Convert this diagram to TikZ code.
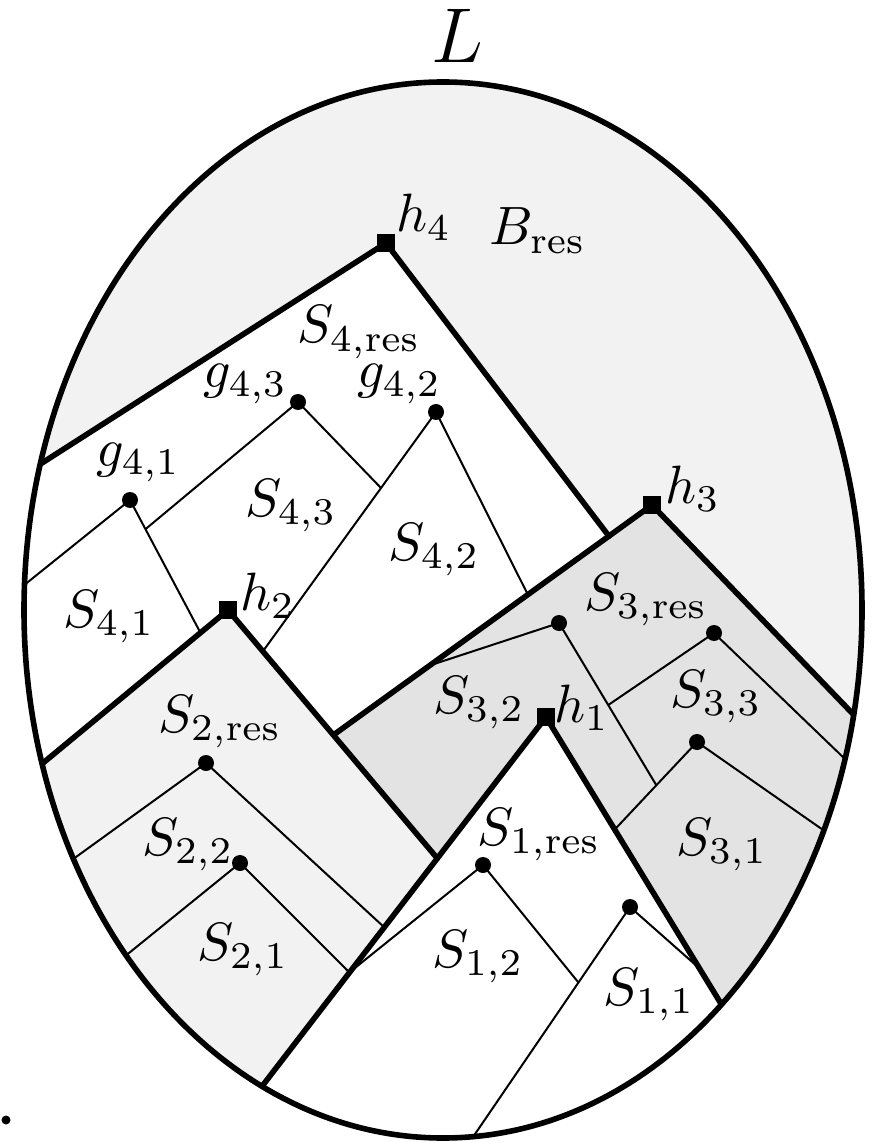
\documentclass[tikz,border=0pt]{standalone}
\usetikzlibrary{calc}
\definecolor{resgray}{RGB}{242,242,242}
\definecolor{midgray}{RGB}{227,227,227}
\begin{document}
\begin{tikzpicture}[x=0.5pt,y=-0.5pt,
  thickline/.style={line width=2.8pt, line cap=round, line join=round},
  thinline/.style={line width=1pt},
  dotmark/.style={circle, fill=black, inner sep=0pt, minimum size=8pt},
  sqmark/.style={rectangle, fill=black, inner sep=0pt, minimum size=9pt},
  lab/.style={inner sep=0pt, anchor=base west, scale=2.7}]
\useasboundingbox (0,0) rectangle (874,1143);
\coordinate (C) at (443,610);
% apexes
\coordinate (h4) at (386,243);
\coordinate (h3) at (652,505);
\coordinate (h2) at (228,610);
\coordinate (h1) at (546,717);
% direction points of thick lines
\coordinate (h4L) at (42,463);
\coordinate (h4R) at (608,535);
\coordinate (h3L) at (336,733);
\coordinate (h3R) at (852,713);
\coordinate (h2L) at (43,763);
\coordinate (h2R) at (437,858);
\coordinate (h1L) at (263,1085);
\coordinate (h1R) at (723,1007);
\coordinate (R4) at (intersection of h4--h4R and h3--h3L);
\coordinate (E3) at (intersection of h3--h3L and h2--h2R);
\coordinate (E2) at (intersection of h2--h2R and h1--h1L);
% branch points
\coordinate (g41) at (130,500);
\coordinate (g43) at (298,402);
\coordinate (g42) at (436,412);
\coordinate (a3) at (559,623);
\coordinate (b3) at (714,633);
\coordinate (c3) at (697,742);
\coordinate (a2) at (206,763);
\coordinate (b2) at (240,863);
\coordinate (a1) at (483,865);
\coordinate (b1) at (630,907);
% direction points of thin lines
\coordinate (g41r) at (199,630);
\coordinate (g43l) at (148,527);
\coordinate (g43r) at (381,488);
\coordinate (g42l) at (266,647);
\coordinate (g42r) at (527,593);
\coordinate (a3l) at (437,663);
\coordinate (a3r) at (655,783);
\coordinate (b3l) at (611,703);
\coordinate (c3l) at (616,828);
\coordinate (a2r) at (384,927);
\coordinate (b2r) at (347,970);
\coordinate (a1l) at (356,967);
\coordinate (a1r) at (578,982);
\coordinate (b1l) at (473,1137);
\coordinate (b1r) at (690,960);

\begin{scope}
\clip (C) ellipse [x radius=209.5pt, y radius=264pt];
\fill[resgray] (C) ellipse [x radius=209.5pt, y radius=264pt];
\fill[white] ($(h4)!1.3!(h4L)$) -- (h4) -- (R4) -- ($(R4)+(0,900)$) -- (-100,1500) -- cycle;
\fill[midgray] (E3) -- (h3) -- ($(h3)!1.3!(h3R)$) -- ++(0,900) -- ($(E3)+(0,900)$) -- cycle;
\fill[resgray] ($(h2)!1.3!(h2L)$) -- (h2) -- (E2) -- ($(E2)+(0,900)$) -- (-100,1600) -- cycle;
\fill[white] ($(h1)!1.3!(h1L)$) -- (h1) -- ($(h1)!1.3!(h1R)$) -- ++(0,600) -- ($(h1)!1.3!(h1L)+(0,600)$) -- cycle;
% thin lines
\draw[thinline] ($(g41)!1.5!(28,582)$) -- (g41) -- (intersection of g41--g41r and h2--h2L);
\draw[thinline] (intersection of g43--g43l and g41--g41r) -- (g43) -- (intersection of g43--g43r and g42--g42l);
\draw[thinline] (intersection of g42--g42l and h2--h2R) -- (g42) -- (intersection of g42--g42r and h3--h3L);
\draw[thinline] (intersection of a3--a3l and h3--h3L) -- (a3) -- (intersection of a3--a3r and c3--c3l);
\draw[thinline] (intersection of b3--b3l and a3--a3r) -- (b3) -- ($(b3)!1.5!(846,760)$);
\draw[thinline] (intersection of c3--c3l and h1--h1R) -- (c3) -- ($(c3)!1.5!(826,832)$);
\draw[thinline] ($(a2)!1.5!(76,857)$) -- (a2) -- (intersection of a2--a2r and h1--h1L);
\draw[thinline] ($(b2)!1.5!(129,953)$) -- (b2) -- (intersection of b2--b2r and h1--h1L);
\draw[thinline] (intersection of a1--a1l and h1--h1L) -- (a1) -- (intersection of a1--a1r and b1--b1l);
\draw[thinline] ($(b1)!1.5!(b1l)$) -- (b1) -- (intersection of b1--b1r and h1--h1R);
% thick lines
\draw[thickline] ($(h4)!1.3!(h4L)$) -- (h4) -- (R4);
\draw[thickline] (E3) -- (h3) -- ($(h3)!1.3!(h3R)$);
\draw[thickline] ($(h2)!1.3!(h2L)$) -- (h2) -- (E2);
\draw[thickline] ($(h1)!1.3!(h1L)$) -- (h1) -- ($(h1)!1.3!(h1R)$);
\end{scope}
\draw[line width=2.8pt] (C) ellipse [x radius=209.5pt, y radius=264pt];

% markers
\node[sqmark] (m4) at (h4) {};
\node[sqmark] (m3) at (h3) {};
\node[sqmark] (m2) at (h2) {};
\node[sqmark] (m1) at (h1) {};
\foreach \p in {g41,g43,g42,a3,b3,c3,a2,b2,a1,b1}{
  \node[dotmark] (d\p) at (\p) {};
}
\node[circle, fill=black, inner sep=0pt, minimum size=4.5pt] (stray) at (6,1120) {};

% labels
\node[lab, font=\Large] (lL) at (430,63) {$L$};
\node[lab] (lh4) at (395,232) {$h_4$};
\node[lab] (lB) at (488,245) {$B_{\mathrm{res}}$};
\node[lab] (lS4r) at (296,343) {$S_{4,\mathrm{res}}$};
\node[lab] (lg43) at (202,388) {$g_{4,3}$};
\node[lab] (lg42) at (356,388) {$g_{4,2}$};
\node[lab] (lg41) at (95,466) {$g_{4,1}$};
\node[lab] (lS43) at (244,516) {$S_{4,3}$};
\node[lab] (lS42) at (387,560) {$S_{4,2}$};
\node[lab] (lS41) at (62,627) {$S_{4,1}$};
\node[lab] (lh2) at (239,610) {$h_2$};
\node[lab] (lh3) at (664,503) {$h_3$};
\node[lab] (lS3r) at (583,610) {$S_{3,\mathrm{res}}$};
\node[lab] (lS32) at (432,713) {$S_{3,2}$};
\node[lab] (lh1) at (553,722) {$h_1$};
\node[lab] (lS33) at (669,707) {$S_{3,3}$};
\node[lab] (lS2r) at (157,732) {$S_{2,\mathrm{res}}$};
\node[lab] (lS22) at (141,855) {$S_{2,2}$};
\node[lab] (lS21) at (196,960) {$S_{2,1}$};
\node[lab] (lS1r) at (476,845) {$S_{1,\mathrm{res}}$};
\node[lab] (lS31) at (675,855) {$S_{3,1}$};
\node[lab] (lS12) at (431,967) {$S_{1,2}$};
\node[lab] (lS11) at (602,1005) {$S_{1,1}$};
\end{tikzpicture}
\end{document}
